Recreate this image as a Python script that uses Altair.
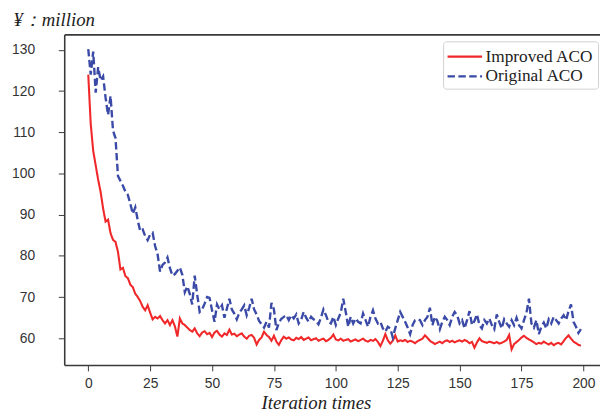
import altair as alt
import pandas as pd

iterations = list(range(200))

improved_aco = [
    124.0, 112.0, 105.5, 102.0, 98.5, 95.5, 91.5, 88.3, 88.8, 85.5,
    83.9, 83.4, 81.0, 76.7, 77.1, 75.1, 74.6, 73.0, 72.4, 70.8,
    70.0, 69.0, 67.6, 66.8, 68.0, 66.2, 64.6, 65.2, 64.8, 65.4,
    64.4, 63.6, 64.4, 63.2, 64.4, 62.9, 60.4, 64.8, 63.6, 63.2,
    62.6, 62.0, 61.6, 62.4, 61.2, 60.5, 61.4, 61.7, 61.0, 61.3,
    60.3, 61.4, 61.8, 60.9, 60.4, 61.2, 60.8, 62.1, 60.9, 61.1,
    60.5, 60.9, 61.2, 60.4, 59.9, 60.6, 60.8, 60.1, 58.5, 59.6,
    60.2, 61.6, 60.8, 60.3, 59.4, 60.6, 59.2, 58.4, 59.6, 60.4,
    59.9, 60.2, 59.7, 59.5, 60.1, 59.8, 60.3, 59.6, 59.9, 60.2,
    59.5, 59.8, 60.0, 59.4, 59.7, 59.9, 59.3, 59.6, 60.1, 60.9,
    59.7, 59.5, 59.9, 59.4, 59.6, 59.8, 59.2, 59.5, 59.7, 59.3,
    59.6, 59.9, 59.4, 59.2, 59.6, 59.4, 59.8, 59.1, 58.1, 59.4,
    61.0, 59.5, 58.7, 59.4, 60.7, 59.2, 59.5, 59.3, 59.6, 59.1,
    59.4, 59.2, 58.8, 59.3, 59.6, 59.9, 60.7, 60.1, 59.4, 59.0,
    58.6, 58.9, 59.2, 58.8, 59.3, 59.5, 59.1, 59.4, 59.0, 59.3,
    59.5, 59.2, 59.6, 59.3, 58.8, 59.1, 57.7, 59.0, 60.0, 59.3,
    59.1, 58.9, 59.2, 59.0, 58.8, 59.1, 58.7, 58.9, 59.2, 59.6,
    60.8, 57.3, 58.6, 59.1, 59.6, 60.2, 60.6, 60.1, 59.7, 59.4,
    59.0, 58.6, 58.9, 58.7, 59.2, 58.8, 58.5, 58.9, 58.3, 58.7,
    58.9, 58.5, 59.3, 60.1, 60.7, 59.9, 59.2, 58.8, 58.4, 58.2,
]

original_aco = [
    130.2, 124.0, 129.6, 119.6, 125.8, 122.6, 123.6, 118.4, 114.2, 118.8,
    110.4, 108.6, 99.4, 98.2, 97.0, 95.6, 94.8, 92.6, 90.2, 91.8,
    88.6, 86.0, 86.4, 84.8, 83.8, 85.2, 85.6, 82.4, 80.4, 76.2,
    77.8, 78.4, 79.6, 77.0, 75.2, 75.6, 76.4, 77.2, 75.4, 71.2,
    72.6, 70.8, 68.2, 75.2, 70.6, 66.4, 67.0, 68.4, 70.0, 69.8,
    66.8, 64.0, 68.2, 67.0, 68.0, 65.0, 67.2, 69.6, 67.0, 66.0,
    64.6, 66.2, 67.0, 68.0, 65.6, 67.4, 69.6, 67.0, 65.8, 64.2,
    63.4, 62.6, 64.0, 62.6, 68.6, 67.0, 62.0, 63.8, 64.7, 65.2,
    65.6, 64.4, 65.6, 64.8, 65.8, 63.6, 64.5, 66.4, 65.0, 64.0,
    65.2, 64.6, 64.2, 63.4, 65.0, 67.0, 65.6, 64.0, 63.6, 65.2,
    63.2, 64.8, 66.2, 69.6, 66.4, 62.8, 65.2, 63.6, 64.8, 64.0,
    63.6, 66.0, 64.4, 62.8, 65.2, 66.8, 64.8, 63.6, 64.0, 62.4,
    61.6, 62.8, 62.4, 60.2, 62.4, 64.4, 66.4, 65.2, 64.0, 62.6,
    61.0, 63.2, 64.4, 64.6, 64.4, 63.2, 64.4, 65.2, 67.4, 63.2,
    65.2, 64.2, 62.2, 64.0, 65.2, 64.4, 63.2, 65.2, 66.4, 65.6,
    63.6, 64.4, 62.4, 64.4, 66.6, 63.2, 64.2, 65.8, 63.2, 62.4,
    64.4, 63.6, 64.8, 63.2, 62.2, 65.8, 64.0, 62.4, 64.6, 63.6,
    62.8, 64.4, 63.2, 65.0, 63.2, 62.4, 64.4, 66.2, 69.6, 63.6,
    62.6, 64.4, 61.0, 62.8, 63.8, 62.4, 64.6, 63.6, 65.2, 64.4,
    63.6, 64.8, 65.6, 64.4, 66.6, 68.2, 64.0, 62.8, 61.3, 62.2,
]

series_names = ["Improved ACO", "Original ACO"]
series_colors = ["#f0282a", "#3a4aa6"]
series_dashes = [[1, 0], [7.5, 3.5]]
x_ticks = [0, 25, 50, 75, 100, 125, 150, 175, 200]
y_ticks = [60, 70, 80, 90, 100, 110, 120, 130]

df = pd.DataFrame({
    "iter": iterations * 2,
    "value": improved_aco + original_aco,
    "series": [series_names[0]] * len(improved_aco) + [series_names[1]] * len(original_aco),
})

legend = alt.Legend(
    title=None,
    orient="none",
    legendX=384,
    legendY=7,
    padding=4,
    strokeColor="#d0d0d0",
    fillColor="white",
    cornerRadius=3,
    labelFont="Liberation Serif",
    labelFontSize=17.5,
    labelColor="#222222",
    symbolType="M-1.75,0H1.75",
    symbolSize=400,
    symbolStrokeWidth=2.3,
    symbolOffset=6.5,
    labelOffset=9.5,
    rowPadding=0,
)

xscale = alt.Scale(domain=[-9.7, 206.7], nice=False, zero=False)
yscale = alt.Scale(domain=[53.53, 133.76], nice=False, zero=False)

color = alt.Color("series:N", scale=alt.Scale(domain=series_names, range=series_colors), legend=legend)
dash = alt.StrokeDash("series:N", scale=alt.Scale(domain=series_names, range=series_dashes), legend=legend)

bottom_axis = alt.Axis(
    orient="bottom", values=x_ticks, grid=False,
    domainColor="#3a3a3a", domainWidth=1.6,
    tickColor="#3a3a3a", tickSize=6, tickWidth=1,
    labelFont="Liberation Sans", labelFontSize=14, labelColor="#333333", labelPadding=6,
    title="Iteration times", titleFont="Liberation Serif", titleFontStyle="italic",
    titleFontWeight="normal", titleFontSize=19, titleColor="#222222",
    titleX=255, titleY=44, titleAlign="center", titleBaseline="alphabetic",
)
top_axis = alt.Axis(
    orient="top", grid=False, ticks=False, labels=False, title=None,
    domainColor="#3a3a3a", domainWidth=1.6,
)
left_axis = alt.Axis(
    orient="left", values=y_ticks, grid=False,
    domainColor="#3a3a3a", domainWidth=1.6,
    tickColor="#3a3a3a", tickSize=6, tickWidth=1,
    labelFont="Liberation Sans", labelFontSize=14, labelColor="#333333", labelPadding=24,
    title="¥：million", titleFont="Liberation Serif", titleFontStyle="italic",
    titleFontWeight="normal", titleFontSize=19, titleColor="#222222",
    titleAngle=0, titleX=-52, titleY=-9, titleAlign="left", titleBaseline="alphabetic",
)

red = alt.Chart(df).transform_filter(alt.datum.series == series_names[0]).mark_line(strokeWidth=2.1).encode(
    x=alt.X("iter:Q", scale=xscale, axis=bottom_axis),
    y=alt.Y("value:Q", scale=yscale, axis=left_axis),
    color=color,
    strokeDash=dash,
)
blue = alt.Chart(df).transform_filter(alt.datum.series == series_names[1]).mark_line(strokeWidth=2.4).encode(
    x=alt.X("iter:Q", scale=xscale, axis=top_axis),
    y=alt.Y("value:Q", scale=yscale),
    color=color,
    strokeDash=dash,
)

chart = alt.layer(red, blue).properties(
    width=543,
    height=335,
    autosize=alt.AutoSizeParams(type="none"),
    padding={"left": 57, "top": 24, "right": 0, "bottom": 49},
    background="white",
).configure_view(stroke=None)

chart.save("out.html", embed_options={"renderer": "svg", "actions": False})
